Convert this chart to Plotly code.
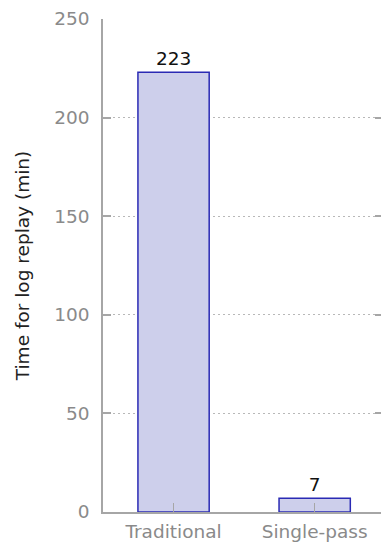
import plotly.graph_objects as go

categories = ["Traditional", "Single-pass"]
replay_minutes = [223, 7]
y_ticks = [0, 50, 100, 150, 200, 250]

FONT = "DejaVu Sans"
AXIS_GRAY = "#a6a6a6"
LABEL_GRAY = "#8a8a8a"
FS = 18.5

fig = go.Figure(
    go.Bar(
        x=categories,
        y=replay_minutes,
        width=0.505,
        marker=dict(color="#cdcfeb", line=dict(color="#2a2ab4", width=1.5)),
        text=[str(v) for v in replay_minutes],
        textposition="outside",
        textfont=dict(family=FONT, size=FS, color="#111111"),
        cliponaxis=False,
    )
)

fig.update_layout(
    width=381,
    height=542,
    margin=dict(l=103, r=0, t=19, b=30),
    paper_bgcolor="white",
    plot_bgcolor="white",
    showlegend=False,
    font=dict(family=FONT),
)

fig.update_xaxes(
    type="category",
    range=[-0.5, 1.47],
    automargin=False,
    showline=True,
    linecolor=AXIS_GRAY,
    linewidth=1.5,
    ticks="inside",
    ticklen=9,
    tickcolor=AXIS_GRAY,
    tickwidth=1,
    tickfont=dict(family=FONT, size=FS, color=LABEL_GRAY),
    ticklabelstandoff=2,
    showgrid=False,
)

fig.update_yaxes(
    range=[0, 250],
    tickvals=y_ticks,
    automargin=False,
    showline=True,
    linecolor=AXIS_GRAY,
    linewidth=1.5,
    ticks="inside",
    ticklen=8,
    tickcolor=AXIS_GRAY,
    tickwidth=1.5,
    tickfont=dict(family=FONT, size=FS, color=LABEL_GRAY),
    ticklabelstandoff=8,
    showgrid=True,
    gridcolor="#b8b8b8",
    griddash="2px,3px",
    gridwidth=1,
    zeroline=False,
    title=dict(text="Time for log replay (min)", font=dict(family=FONT, size=FS, color="#222222"), standoff=20),
)

# right-hand inward ticks without an axis line
fig.update_layout(
    yaxis2=dict(
        overlaying="y",
        side="right",
        matches="y",
        range=[0, 250],
        tickvals=y_ticks,
        automargin=False,
        showline=False,
        showgrid=False,
        zeroline=False,
        ticks="inside",
        ticklen=6,
        tickcolor=AXIS_GRAY,
        tickwidth=1.5,
        showticklabels=False,
    )
)
fig.add_trace(go.Scatter(x=categories, y=[None, None], yaxis="y2", showlegend=False, hoverinfo="skip"))

fig.write_html("out.html")
